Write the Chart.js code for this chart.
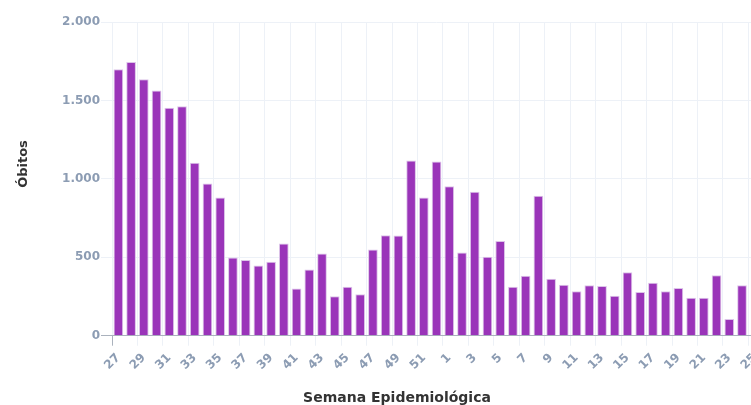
<!DOCTYPE html>
<html>
<head>
<meta charset="utf-8">
<script src="https://cdn.jsdelivr.net/npm/chart.js@4"></script>
<style>
  body { margin: 0; background: #fff; overflow: hidden; }
  #wrap { position: relative; width: 770px; height: 405px; }
  .axisTitle {
    position: absolute;
    font-family: "DejaVu Sans", sans-serif;
    font-weight: bold;
    color: #333;
    white-space: nowrap;
  }
  #xTitle { left: 297px; width: 200px; top: 389px; text-align: center; font-size: 14px; line-height: 16px; }
  #yTitle { left: -7px; width: 60px; top: 156px; text-align: center; font-size: 13px; line-height: 16px; transform: rotate(-90deg); }
</style>
</head>
<body>
<div id="wrap">
  <canvas id="chart"></canvas>
  <div class="axisTitle" id="xTitle">Semana Epidemiológica</div>
  <div class="axisTitle" id="yTitle">Óbitos</div>
</div>
<script>
const weeks = ['27', '28', '29', '30', '31', '32', '33', '34', '35', '36', '37', '38', '39', '40',
  '41', '42', '43', '44', '45', '46', '47', '48', '49', '50', '51', '52',
  '1', '2', '3', '4', '5', '6', '7', '8', '9', '10', '11', '12', '13', '14', '15', '16',
  '17', '18', '19', '20', '21', '22', '23', '24', '25'];

const deaths = [1698, 1745, 1635, 1563, 1454, 1463, 1102, 970, 881, 499, 482, 448, 471, 588,
  301, 422, 524, 251, 312, 265, 550, 641, 639, 1117, 881, 1111,
  953, 531, 917, 503, 603, 312, 382, 892, 363, 325, 283, 321, 317, 255, 404, 278,
  338, 283, 304, 242, 242, 385, 106, 321, null];

const yTicks = [0, 500, 1000, 1500, 2000];

const gridColor = '#edf1f7';
const axisColor = '#aab2bd';
const tickFont = { family: 'DejaVu Sans', size: 12, weight: 'bold' };

function fmt(v) {
    return String(v).replace(/\B(?=(\d{3})+(?!\d))/g, '.');
}

const ctx = document.getElementById('chart').getContext('2d');
new Chart(ctx, {
    type: 'bar',
    data: {
        labels: weeks,
        datasets: [{
            label: 'Óbitos',
            data: deaths,
            backgroundColor: '#9a34b9',
            borderColor: '#dcc4e9',
            borderWidth: 1,
            barPercentage: 0.76,
            categoryPercentage: 1
        }]
    },
    options: {
        responsive: true,
        maintainAspectRatio: false,
        animation: false,
        layout: { padding: { top: 22, right: 8, left: 0, bottom: 0 } },
        plugins: {
            legend: { display: false },
            tooltip: { enabled: false }
        },
        scales: {
            x: {
                grid: {
                    offset: true,
                    color: c => c.index % 2 === 0 ? gridColor : 'rgba(0,0,0,0)',
                    tickColor: c => c.index === 0 ? axisColor : (c.index % 2 === 0 ? gridColor : 'rgba(0,0,0,0)'),
                    tickLength: 10
                },
                border: { color: axisColor },
                ticks: {
                    autoSkip: false,
                    maxRotation: 45,
                    minRotation: 45,
                    padding: 5,
                    color: '#8c9cb3',
                    font: tickFont,
                    callback: (v, i) => i % 2 === 0 ? weeks[i] : ''
                },
                afterFit: s => { s.height = 69.3; }
            },
            y: {
                min: yTicks[0],
                max: yTicks[yTicks.length - 1],
                afterBuildTicks: s => { s.ticks = yTicks.map(v => ({ value: v })); },
                grid: {
                    color: gridColor,
                    tickColor: c => c.tick && c.tick.value === 0 ? axisColor : gridColor,
                    tickLength: 11
                },
                border: { display: false },
                ticks: {
                    padding: 1,
                    color: '#8c9cb3',
                    font: tickFont,
                    callback: v => fmt(v)
                },
                afterFit: s => { s.width = 112; }
            }
        }
    }
});
</script>
</body>
</html>
